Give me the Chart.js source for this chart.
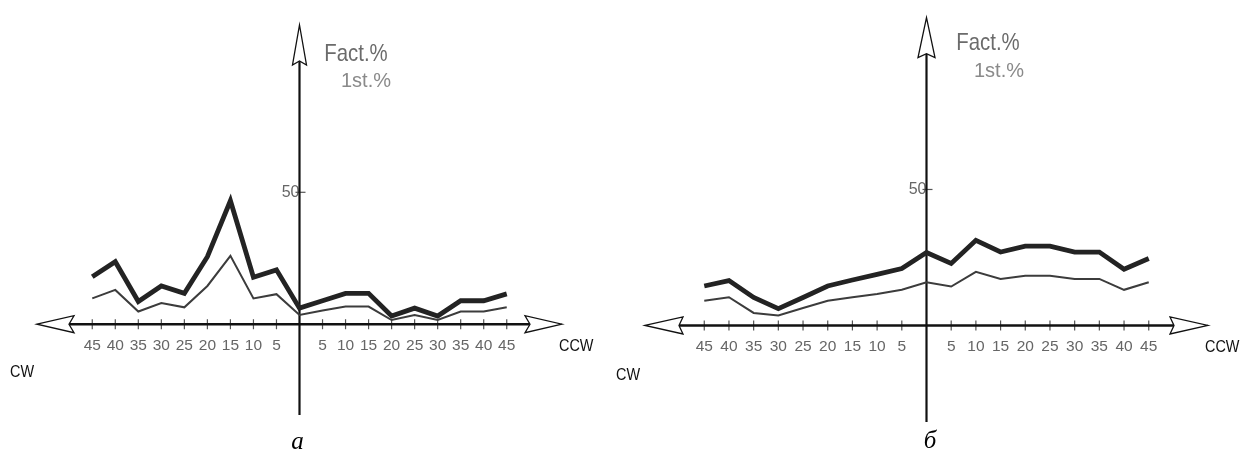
<!DOCTYPE html>
<html><head><meta charset="utf-8">
<script src="https://cdn.jsdelivr.net/npm/chart.js@4.4.1/dist/chart.umd.min.js"></script>
<style>
html,body{margin:0;padding:0;background:#fff;width:1242px;height:450px;overflow:hidden;position:relative}
.wrap{position:absolute;top:0;width:621px;height:450px}
canvas{display:block}
.lbl{position:absolute;white-space:nowrap;font-family:"Liberation Sans",Arial,sans-serif;line-height:1}
.nl{transform:scaleX(0.85);transform-origin:left center}
.nr{transform:scaleX(0.85);transform-origin:right center}
.cap{position:absolute;white-space:nowrap;font-family:"Liberation Serif","Times New Roman",serif;font-style:italic;line-height:1;font-size:25px;color:#000;transform:translateX(-50%)}
</style></head><body>
<div class="wrap" style="left:0"><canvas id="cA" width="621" height="450"></canvas></div>
<div class="wrap" style="left:621px"><canvas id="cB" width="621" height="450"></canvas></div>

<div class="lbl nr" style="right:854px;top:40.7px;font-size:24px;color:#6b6b6b">Fact.%</div>
<div class="lbl" style="right:851px;top:70px;font-size:20px;color:#8a8a8a">1st.%</div>
<div class="lbl nl" style="left:10px;top:363px;font-size:17px;color:#111">CW</div>
<div class="lbl nl" style="left:559px;top:336.6px;font-size:17px;color:#111">CCW</div>
<div class="cap" style="left:297.5px;top:428px">а</div>

<div class="lbl nr" style="right:222px;top:29.7px;font-size:24px;color:#6b6b6b">Fact.%</div>
<div class="lbl" style="right:218px;top:59.8px;font-size:20px;color:#8a8a8a">1st.%</div>
<div class="lbl nl" style="left:616px;top:365.6px;font-size:17px;color:#111">CW</div>
<div class="lbl nl" style="left:1205px;top:338px;font-size:17px;color:#111">CCW</div>
<div class="cap" style="left:930px;top:427px">б</div>

<script>
// Angle positions: negative = CW side (left), positive = CCW side (right)
const angles = [-45,-40,-35,-30,-25,-20,-15,-10,-5,0,5,10,15,20,25,30,35,40,45];
const angleLabels = ['45','40','35','30','25','20','15','10','5','','5','10','15','20','25','30','35','40','45'];
const yTickValues = [50];
const yTickLabels = ['50'];

// Panel а
const factA  = [18.0,23.7,8.6,14.5,11.7,25.6,46.8,17.8,20.6,6.1,8.9,11.7,11.7,3.1,6.1,3.1,8.9,8.9,11.5];
const firstA = [9.8,13.0,4.8,8.0,6.4,14.5,25.9,9.8,11.4,3.5,5.2,6.7,6.7,1.6,3.5,1.6,4.8,4.8,6.4];
// Panel б
const factB  = [14.5,16.5,10.3,6.2,10.3,14.5,16.7,18.8,20.9,26.8,22.8,31.3,27.0,29.2,29.2,27.0,27.0,20.7,24.6];
const firstB = [9.1,10.4,4.6,3.7,6.4,9.1,10.4,11.6,13.1,15.9,14.3,19.7,17.1,18.3,18.3,17.1,17.1,13.1,15.9];

const xTickFont = {family:'"Liberation Sans",Arial,sans-serif', size:15.5};
const yTickFont = {family:'"Liberation Sans",Arial,sans-serif', size:16};

function arrow(ctx, tx, ty, dx, dy, L, W, N){
  const bx = tx - dx*L, by = ty - dy*L;
  const px = -dy, py = dx;
  const nx = tx - dx*(L-N), ny = ty - dy*(L-N);
  ctx.beginPath();
  ctx.moveTo(tx,ty);
  ctx.lineTo(bx+px*W, by+py*W);
  ctx.lineTo(nx, ny);
  ctx.lineTo(bx-px*W, by-py*W);
  ctx.closePath();
  ctx.fillStyle = '#fff'; ctx.fill();
  ctx.lineWidth = 1.3; ctx.strokeStyle = '#111'; ctx.lineJoin = 'miter'; ctx.stroke();
}

function axesPlugin(p){
  return {
    id: 'crossAxes',
    beforeDatasetsDraw(chart){
      const {ctx, chartArea:a, scales:{x, y}} = chart;
      const x0 = x.getPixelForValue(0), y0 = y.getPixelForValue(0);
      ctx.save();
      ctx.strokeStyle = '#555'; ctx.lineWidth = 1.2;
      angles.forEach(v => { if (v === 0) return;
        const px = x.getPixelForValue(v);
        ctx.beginPath(); ctx.moveTo(px, y0-5); ctx.lineTo(px, y0+5); ctx.stroke(); });
      yTickValues.forEach(v => { const py = y.getPixelForValue(v);
        ctx.beginPath(); ctx.moveTo(x0-4, py); ctx.lineTo(x0+6, py); ctx.stroke(); });
      ctx.strokeStyle = '#111';
      ctx.lineWidth = 2.6;
      ctx.beginPath(); ctx.moveTo(a.left + p.xL - p.xN, y0); ctx.lineTo(a.right - p.xL + p.xN, y0); ctx.stroke();
      ctx.lineWidth = 2.2;
      ctx.beginPath(); ctx.moveTo(x0, a.bottom); ctx.lineTo(x0, a.top + p.yL - p.yN); ctx.stroke();
      arrow(ctx, a.left, y0, -1, 0, p.xL, p.xW, p.xN);
      arrow(ctx, a.right, y0, 1, 0, p.xL, p.xW, p.xN);
      arrow(ctx, x0, a.top, 0, -1, p.yL, p.yW, p.yN);
      ctx.restore();
    }
  };
}

function makeChart(id, fact, first, ymin, ymax, pad, arrows, yPad){
  return new Chart(document.getElementById(id), {
    type: 'line',
    data: {
      datasets: [
        {label:'1st.%', data: angles.map((a,i)=>({x:a, y:first[i]})), borderColor:'#3c3c3c', borderWidth:2, pointRadius:0, tension:0, borderJoinStyle:'miter'},
        {label:'Fact.%', data: angles.map((a,i)=>({x:a, y:fact[i]})), borderColor:'#232323', borderWidth:4.8, pointRadius:0, tension:0, borderJoinStyle:'miter'}
      ]
    },
    options: {
      responsive:false, animation:false, devicePixelRatio:1,
      layout:{padding:pad},
      plugins:{legend:{display:false}, tooltip:{enabled:false}, title:{display:false}},
      scales:{
        x:{type:'linear', min:-57, max:57, position:{y:0},
           grid:{display:false, drawTicks:false}, border:{display:false},
           afterBuildTicks: s => { s.ticks = angles.filter(v=>v!==0).map(v=>({value:v})); },
           afterFit: s => { s.height = 0; },
           ticks:{autoSkip:false, maxRotation:0, color:'#666', font:xTickFont, padding:12,
                  callback: v => angleLabels[angles.indexOf(v)]}},
        y:{type:'linear', min:ymin, max:ymax, position:{x:0},
           grid:{display:false, drawTicks:false}, border:{display:false},
           afterBuildTicks: s => { s.ticks = yTickValues.map(v=>({value:v})); },
           afterFit: s => { s.width = 0; },
           ticks:{color:'#666', font:yTickFont, padding:yPad,
                  callback: v => yTickLabels[yTickValues.indexOf(v)]}}
      }
    },
    plugins:[axesPlugin(arrows)]
  });
}

makeChart('cA', factA, firstA, -34.4, 113.4, {left:37, right:59, top:25, bottom:35},
  {xL:37, xW:8.5, xN:5, yL:40, yW:7, yN:4}, 7);
makeChart('cB', factB, firstB, -35.5, 113.2, {left:24, right:34, top:13, bottom:28},
  {xL:38, xW:8.5, xN:4, yL:40, yW:8.5, yN:4}, 8);
</script>
</body></html>
